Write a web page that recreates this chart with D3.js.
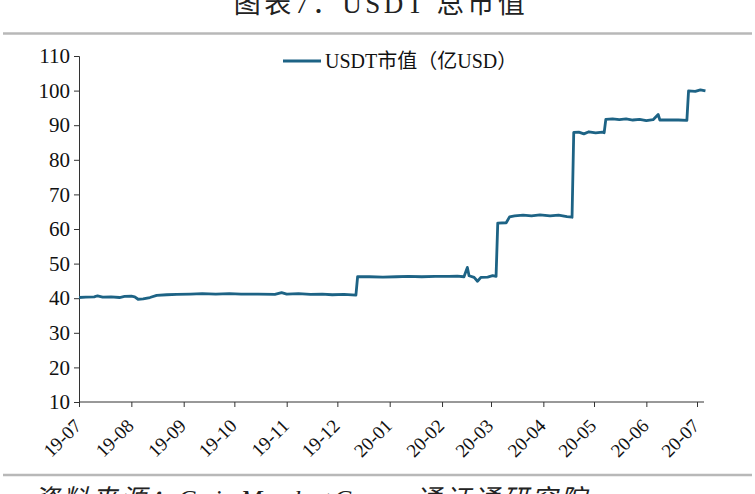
<!DOCTYPE html>
<html><head><meta charset="utf-8">
<script src="https://cdn.jsdelivr.net/npm/d3@7"></script>
<style>body{margin:0;background:#fff;}svg{display:block;}</style>
</head><body>
<svg id="c" width="755" height="494"></svg>
<script>
const title = "图表7：USDT 总市值";
const seriesName = "USDT市值（亿USD）";
const source = "资料来源：CoinMarketCap，通证通研究院";
const yTicks = [10,20,30,40,50,60,70,80,90,100,110];
const xTickLabels = ["19-07","19-08","19-09","19-10","19-11","19-12","20-01","20-02","20-03","20-04","20-05","20-06","20-07"];
const dates = ["2019-07-01","2019-07-05","2019-07-10","2019-07-12","2019-07-15","2019-07-20","2019-07-25","2019-07-28","2019-08-01","2019-08-03","2019-08-05","2019-08-08","2019-08-12","2019-08-16","2019-08-22","2019-08-28","2019-09-05","2019-09-12","2019-09-20","2019-09-28","2019-10-05","2019-10-15","2019-10-25","2019-10-29","2019-11-01","2019-11-08","2019-11-15","2019-11-22","2019-11-28","2019-12-05","2019-12-12","2019-12-13","2019-12-20","2019-12-28","2020-01-05","2020-01-12","2020-01-20","2020-01-28","2020-02-05","2020-02-10","2020-02-14","2020-02-16","2020-02-17","2020-02-20","2020-02-22","2020-02-24","2020-02-28","2020-03-02","2020-03-04","2020-03-05","2020-03-10","2020-03-12","2020-03-15","2020-03-20","2020-03-25","2020-03-30","2020-04-05","2020-04-10","2020-04-15","2020-04-18","2020-04-19","2020-04-22","2020-04-25","2020-04-28","2020-05-02","2020-05-06","2020-05-07","2020-05-08","2020-05-12","2020-05-16","2020-05-20","2020-05-24","2020-05-28","2020-06-01","2020-06-05","2020-06-08","2020-06-09","2020-06-14","2020-06-20","2020-06-25","2020-06-26","2020-06-30","2020-07-03","2020-07-06"];
const values = [40.2,40.3,40.4,40.7,40.3,40.4,40.2,40.5,40.6,40.4,39.7,39.8,40.2,40.8,41.0,41.1,41.2,41.3,41.2,41.3,41.2,41.2,41.1,41.6,41.2,41.3,41.1,41.2,41.0,41.1,40.9,46.2,46.2,46.1,46.2,46.3,46.2,46.3,46.3,46.4,46.2,48.9,46.5,46.0,44.9,46.0,46.1,46.5,46.3,61.7,61.8,63.5,63.8,64.0,63.8,64.1,63.8,64.0,63.6,63.4,87.9,88.0,87.5,88.1,87.8,88.0,87.8,91.7,91.8,91.6,91.8,91.5,91.7,91.3,91.6,93.1,91.5,91.5,91.5,91.4,99.9,99.8,100.2,99.9];

const svg = d3.select("#c");
const serif = "'Liberation Serif','Times New Roman','Noto Sans CJK SC',serif";
const parse = d3.timeParse("%Y-%m-%d");
const data = dates.map((d,i)=>({date:parse(d), v:values[i]}));

const mL = 79, mR = 697, mT = 56, mB = 402;
const x = d3.scaleTime().domain([parse("2019-07-01"), parse("2020-07-01")]).range([mL, mR]);
const y = d3.scaleLinear().domain([10,110]).range([mB, mT]);

// title
svg.append("text").attr("x",381).attr("y",13).attr("text-anchor","middle")
  .attr("font-family",serif).attr("font-size",27).attr("letter-spacing",3.5).attr("fill","#222").text(title);
// separators
svg.append("line").attr("x1",3).attr("x2",752).attr("y1",33.5).attr("y2",33.5).attr("stroke","#b8b8b8").attr("stroke-width",2.5);
svg.append("line").attr("x1",3).attr("x2",752).attr("y1",475).attr("y2",475).attr("stroke","#b8b8b8").attr("stroke-width",2.5);
svg.append("text").attr("x",33).attr("y",508).attr("font-family",serif).attr("font-style","italic")
  .attr("font-size",26).attr("letter-spacing",3).attr("fill","#222").text(source);

// y axis
const yAxis = d3.axisLeft(y).tickValues(yTicks).tickSize(5).tickPadding(4);
const gy = svg.append("g").attr("transform",`translate(${mL},0)`).call(yAxis);
gy.select(".domain").attr("stroke","#333");
gy.selectAll(".tick line").attr("stroke","#333");
gy.selectAll("text").attr("font-family",serif).attr("font-size",21).attr("fill","#111");

// x axis
const tickDates = xTickLabels.map(s=>parse("20"+s+"-01"));
const xAxis = d3.axisBottom(x).tickValues(tickDates).tickSize(5).tickFormat((d,i)=>xTickLabels[i]);
const axisEnd = 704;
const gx = svg.append("g").attr("transform",`translate(0,${mB})`).call(xAxis);
gx.select(".domain").attr("d",`M${mL},0H${axisEnd}`).attr("stroke","#333");
gx.selectAll(".tick line").attr("stroke","#333");
gx.selectAll("text").attr("font-family",serif).attr("font-size",19).attr("fill","#111")
  .attr("text-anchor","end").attr("dy","0").attr("y",0)
  .attr("transform","translate(3,25) rotate(-45)");

// line
const line = d3.line().x(d=>x(d.date)).y(d=>y(d.v)).curve(d3.curveLinear);
svg.append("path").datum(data).attr("d",line).attr("fill","none")
  .attr("stroke","#1d6385").attr("stroke-width",2.8).attr("stroke-linejoin","round");

// legend
svg.append("line").attr("x1",283).attr("x2",321).attr("y1",61).attr("y2",61).attr("stroke","#1d6385").attr("stroke-width",2.8);
svg.append("text").attr("x",325).attr("y",68).attr("font-family",serif).attr("font-size",20).attr("fill","#111").text(seriesName);
</script>
</body></html>
